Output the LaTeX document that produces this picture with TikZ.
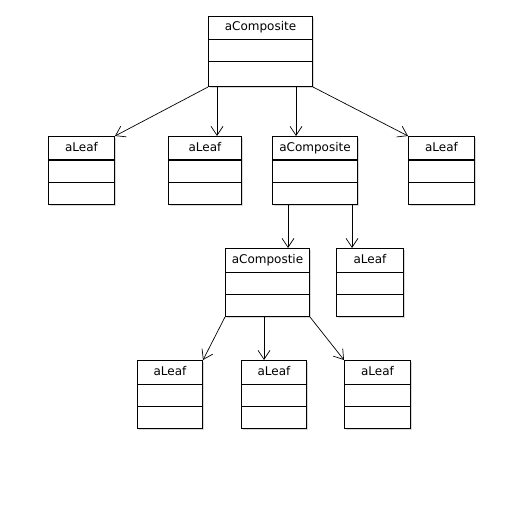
\documentclass[tikz,border=0pt]{standalone}
\usepackage{fontspec}
\setmainfont{DejaVu Sans}
\usetikzlibrary{arrows.meta}

\tikzset{
  objbox/.style={draw, fill=white, line width=1pt, inner sep=0pt,
    anchor=north west, minimum height=68pt},
  objname/.style={font=\fontsize{12}{14}\selectfont, inner sep=0pt, anchor=base},
  link/.style={line width=0.7pt, -{Straight Barb[length=9pt,width=12pt]}}
}

% [height]{name}{x}{y}{width}{label}
\newcommand{\umlobj}[6][68]{%
  \fill[black!15] ({#3+2},{#4+2}) rectangle ++(#5,#1);
  \node[objbox, minimum width=#5pt, minimum height=#1pt] (#2) at (#3,#4) {};
  \node[objname] at ([yshift=-15pt]#2.north) {#6};
  \draw[line width=1pt] ([yshift=-24pt]#2.north west) -- ([yshift=-24pt]#2.north east);
  \draw[line width=1pt] ([yshift=-46pt]#2.north west) -- ([yshift=-46pt]#2.north east);
}

\begin{document}
\begin{tikzpicture}[x=1pt,y=-1pt]
  \fill[white] (0,0) rectangle (522,508);
  \useasboundingbox (0,0) rectangle (522,508);

  \umlobj[70]{root}{208}{16}{104}{aComposite}
  \umlobj{leafA}{48}{136}{66}{aLeaf}
  \umlobj{leafB}{168}{136}{73}{aLeaf}
  \umlobj{compA}{272}{136}{85}{aComposite}
  \umlobj{leafC}{408}{136}{66}{aLeaf}
  \umlobj{compB}{225}{248}{84}{aCompostie}
  \umlobj{leafD}{336}{248}{67}{aLeaf}
  \umlobj{leafE}{137}{360}{65}{aLeaf}
  \umlobj{leafF}{241}{360}{65}{aLeaf}
  \umlobj{leafG}{344}{360}{66}{aLeaf}

  % links
  \draw[link] (root.south west) -- (leafA.north east);
  \draw[link] ([xshift=9pt]root.south west) -- ([xshift=9pt]root.south west |- leafB.north);
  \draw[link] ([xshift=88pt]root.south west) -- ([xshift=88pt]root.south west |- compA.north);
  \draw[link] (root.south east) -- (leafC.north west);

  \draw[link] ([xshift=16pt]compA.south west) -- ([xshift=16pt]compA.south west |- compB.north);
  \draw[link] ([xshift=80pt]compA.south west) -- ([xshift=80pt]compA.south west |- leafD.north);

  \draw[link] (compB.south west) -- (leafE.north east);
  \draw[link] ([xshift=39pt]compB.south west) -- ([xshift=39pt]compB.south west |- leafF.north);
  \draw[link] (compB.south east) -- (leafG.north west);
\end{tikzpicture}
\end{document}
